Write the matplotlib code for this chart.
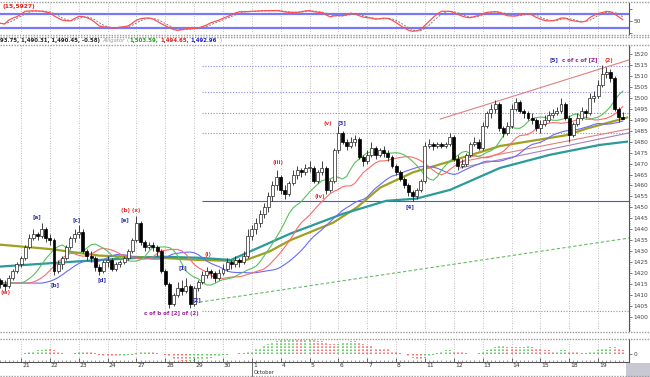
import numpy as np
import pandas as pd
import matplotlib
matplotlib.use("Agg")
import matplotlib.pyplot as plt
from matplotlib.lines import Line2D
from matplotlib.patches import Rectangle
import matplotlib.transforms as mtransforms

# ---------------- data ----------------
day_labels = ["21", "22", "23", "24", "27", "28", "29", "30", "1", "4", "5",
              "6", "7", "8", "11", "12", "13", "14", "15", "18", "19"]
month_label = "October"
month_day_index = 8          # "1" is the first October day
bars_per_day = 7
lead_bars = 5

open_ = [1417, 1415, 1414, 1418, 1421,
         1424, 1427, 1432, 1436, 1438, 1437, 1440,
         1436, 1435, 1421, 1424, 1427, 1432, 1436,
         1438, 1439, 1430, 1428, 1427, 1423, 1421,
         1425, 1426, 1422, 1424, 1425, 1427, 1430,
         1435, 1443, 1434, 1432, 1433, 1432, 1430,
         1421, 1415, 1406, 1410, 1413, 1412, 1414,
         1406, 1413, 1416, 1419, 1421, 1420, 1418,
         1420, 1422, 1425, 1424, 1426, 1425, 1428,
         1437, 1440, 1443, 1447, 1450, 1455, 1460,
         1464, 1458, 1456, 1461, 1465, 1467, 1466,
         1468, 1468, 1462, 1466, 1468, 1458, 1462,
         1476, 1484, 1480, 1478, 1480, 1481, 1473,
         1471, 1474, 1477, 1474, 1476, 1475, 1473,
         1469, 1466, 1463, 1460, 1457, 1455, 1458,
         1462, 1478, 1479, 1478, 1479, 1478, 1479,
         1482, 1472, 1469, 1470, 1474, 1479, 1480,
         1477, 1487, 1493, 1495, 1497, 1486, 1484,
         1487, 1495, 1498, 1494, 1493, 1491, 1490,
         1486, 1488, 1490, 1492, 1493, 1494, 1497,
         1491, 1483, 1488, 1491, 1494, 1493, 1500,
         1501, 1506, 1511, 1512, 1509, 1495, 1491.03]
high = [1418, 1417, 1419, 1422, 1425,
        1428, 1433, 1438, 1440, 1439, 1443, 1441,
        1438, 1436, 1426, 1428, 1433, 1437, 1440,
        1442, 1440, 1431, 1430, 1428, 1424, 1426,
        1428, 1427, 1425, 1426, 1428, 1431, 1436,
        1446, 1444, 1435, 1434, 1434, 1433, 1431,
        1422, 1416, 1411, 1416, 1417, 1418, 1415,
        1414, 1417, 1421, 1423, 1422, 1421, 1422,
        1424, 1427, 1426, 1428, 1427, 1430, 1440,
        1442, 1445, 1449, 1452, 1457, 1462, 1467,
        1465, 1460, 1462, 1467, 1469, 1468, 1470,
        1471, 1469, 1467, 1471, 1469, 1463, 1477,
        1487, 1485, 1481, 1482, 1483, 1482, 1474,
        1476, 1480, 1478, 1477, 1478, 1476, 1474,
        1470, 1467, 1464, 1461, 1458, 1459, 1463,
        1480, 1481, 1480, 1480, 1480, 1480, 1484,
        1483, 1474, 1472, 1475, 1480, 1482, 1481,
        1489, 1494, 1497, 1499, 1498, 1487, 1489,
        1497, 1500, 1499, 1495, 1494, 1493, 1491,
        1490, 1492, 1494, 1495, 1496, 1500, 1498,
        1492, 1489, 1493, 1496, 1495, 1502, 1503,
        1508, 1515, 1514, 1513, 1510, 1496, 1493.75]
low = [1413, 1412, 1413, 1417, 1420,
       1423, 1426, 1431, 1435, 1435, 1436, 1434,
       1433, 1419, 1420, 1422, 1426, 1431, 1434,
       1436, 1429, 1426, 1425, 1421, 1419, 1420,
       1423, 1421, 1421, 1423, 1424, 1426, 1429,
       1434, 1433, 1430, 1431, 1430, 1428, 1420,
       1414, 1404, 1405, 1409, 1410, 1411, 1404,
       1405, 1412, 1415, 1418, 1418, 1416, 1417,
       1419, 1421, 1422, 1423, 1423, 1424, 1427,
       1435, 1438, 1441, 1445, 1448, 1453, 1458,
       1456, 1454, 1455, 1460, 1463, 1464, 1465,
       1466, 1461, 1461, 1465, 1456, 1457, 1461,
       1475, 1479, 1476, 1477, 1478, 1472, 1469,
       1470, 1473, 1472, 1473, 1473, 1471, 1468,
       1465, 1462, 1459, 1455, 1453, 1454, 1457,
       1461, 1477, 1476, 1477, 1477, 1477, 1478,
       1471, 1467, 1468, 1469, 1473, 1478, 1476,
       1476, 1486, 1491, 1493, 1485, 1482, 1483,
       1486, 1494, 1493, 1491, 1490, 1488, 1485,
       1484, 1487, 1489, 1491, 1492, 1493, 1490,
       1480, 1482, 1487, 1490, 1491, 1492, 1498,
       1500, 1505, 1509, 1507, 1494, 1489, 1490.31]
close = [1415, 1414, 1418, 1421, 1424,
         1427, 1432, 1436, 1438, 1437, 1440, 1436,
         1435, 1421, 1424, 1427, 1432, 1436, 1438,
         1439, 1430, 1428, 1427, 1423, 1421, 1425,
         1426, 1422, 1424, 1425, 1427, 1430, 1435,
         1443, 1434, 1432, 1433, 1432, 1430, 1421,
         1415, 1406, 1410, 1413, 1412, 1414, 1406,
         1413, 1416, 1419, 1421, 1420, 1418, 1420,
         1422, 1425, 1424, 1426, 1425, 1428, 1437,
         1440, 1443, 1447, 1450, 1455, 1460, 1464,
         1458, 1456, 1461, 1465, 1467, 1466, 1468,
         1468, 1462, 1466, 1468, 1458, 1462, 1476,
         1484, 1480, 1478, 1480, 1481, 1473, 1471,
         1474, 1477, 1474, 1476, 1475, 1473, 1469,
         1466, 1463, 1460, 1457, 1455, 1458, 1462,
         1478, 1479, 1478, 1479, 1478, 1479, 1482,
         1472, 1469, 1470, 1474, 1479, 1480, 1477,
         1487, 1493, 1495, 1497, 1486, 1484, 1487,
         1495, 1498, 1494, 1493, 1491, 1490, 1486,
         1488, 1490, 1492, 1493, 1494, 1497, 1491,
         1483, 1488, 1491, 1494, 1493, 1500, 1501,
         1506, 1511, 1512, 1509, 1495, 1491.03, 1490.45]

# long moving averages (at sparse bars)
olive_bar = [-0.1, 12, 24, 38.7, 48.4, 58.9, 65.4, 70.3, 80.7, 86.5, 92.1,
             100.1, 109.1, 121.2, 137.5, 142.3, 152]
olive_val = [1433, 1431, 1428, 1427, 1426, 1425.5, 1430, 1435, 1443, 1450, 1459,
             1466, 1471, 1478, 1483, 1486, 1491]
teal_bar = [-0.1, 24, 38.7, 48.4, 55.9, 70.3, 83, 93.6, 100.9, 109.1, 121.2,
            133.3, 145.4, 152]
teal_val = [1423, 1426, 1427.5, 1427, 1426, 1438, 1447, 1453, 1454, 1458, 1468,
            1474, 1478.5, 1480]

# horizontal levels and trend lines
fib_dotted = [1514.5, 1502.8, 1493.2, 1483.9, 1402.9]
fib_solid = 1452.9
fib_start = 49
green_trend_bar = [47, 152.5]
green_trend_val = [1406.4, 1436.0]
chan_up_bar = [106.7, 152.5]
chan_up_val = [1490.3, 1517.3]
chan_lo_bar = [111.5, 152.5]
chan_lo_val = [1470.7, 1485.8]
chan_lo2_bar = [111.5, 152.5]
chan_lo2_val = [1468.0, 1484.0]

wave_text = ["(w)", "[a]", "[b]", "[c]", "[d]", "[e]", "(b) (x)",
             "c of b of [2] of (2)", "[1]", "[2]", "(i)", "(iii)", "(iv)",
             "(v)", "[3]", "[4]", "[5]", "c of c of [Z]", "(2)"]
wave_bar = [1.3, 8.9, 13.3, 18.6, 24.7, 30.2, 31.6, 41.5, 44.3, 47.7, 50.4,
            67.4, 77.6, 79.5, 82.9, 99.4, 134.2, 140.6, 147.6]
wave_price = [1411, 1445.6, 1414.6, 1444.6, 1416.9, 1444.6, 1448.8, 1401.8,
              1422.4, 1407.8, 1428.3, 1470.7, 1454.8, 1488.5, 1488.5, 1450.2,
              1517.3, 1517.3, 1517.0]
wave_color = ["#e03030", "#3030b0", "#3030b0", "#3030b0", "#3030b0", "#3030b0",
              "#e03030", "#a020a0", "#3030b0", "#3030b0", "#e03030", "#e03030",
              "#e03030", "#e03030", "#3030b0", "#3030b0", "#3030b0", "#a020a0",
              "#e03030"]

header_parts = ["93.75, 1,490.31, 1,490.45, -0.58)", "Alligator", "(",
                "1,503.59,", "1,494.65,", "1,492.96", ")"]
header_colors = ["#222222", "#999999", "#999999", "#20a020", "#e02020", "#2020d0", "#999999"]

# ---------------- figure ----------------
PW, PH = 650.0, 377.0
fig = plt.figure(figsize=(6.5, 3.77), dpi=100)
fig.patch.set_facecolor("white")


def rect(x0, y0, x1, y1):
    return [x0 / PW, 1 - y1 / PH, (x1 - x0) / PW, (y1 - y0) / PH]


XL = (-0.1, 152.5)
ax_st = fig.add_axes(rect(0, 3, 629, 34))
ax = fig.add_axes(rect(0, 45, 629, 331))
ax_ao = fig.add_axes(rect(0, 339, 629, 362))

n = len(close)
x = np.arange(n)
o = np.array(open_, float)
h = np.array(high, float)
l = np.array(low, float)
c = np.array(close, float)
day_pos = [lead_bars + bars_per_day * k for k in range(len(day_labels))]

for a in (ax_st, ax, ax_ao):
    a.set_xlim(*XL)
    for s in ("left", "top", "bottom"):
        a.spines[s].set_visible(False)
    a.spines["right"].set_color("#555555")
    a.spines["right"].set_linewidth(0.8)
    for p in day_pos:
        a.axvline(p, color="#aaaaaa", lw=0.6, ls=(0, (1, 2)), zorder=0)
    a.set_xticks([])
    a.yaxis.tick_right()
    a.tick_params(axis="y", labelsize=4.2, colors="#444444", length=2, width=0.5, pad=1.5)

# ---------- main price panel ----------
ax.set_ylim(1393.6, 1524.1)
ax.set_yticks(np.arange(1400, 1521, 5))
ax.set_yticks(np.arange(1394, 1524, 1), minor=True)
ax.tick_params(axis="y", which="minor", length=1, width=0.4, colors="#555555")

for lv in fib_dotted:
    ax.hlines(lv, fib_start, XL[1], color="#8a8aee", lw=0.8, ls=(0, (1, 1.5)), zorder=1)
ax.hlines(fib_solid, fib_start, XL[1], color="#5050dd", lw=0.8, zorder=1)
ax.plot(green_trend_bar, green_trend_val, color="#66bb66", lw=0.8, ls=(0, (3, 2)), zorder=1)
ax.plot(chan_up_bar, chan_up_val, color="#e08080", lw=0.8, zorder=1)
ax.plot(chan_lo_bar, chan_lo_val, color="#e08080", lw=0.8, zorder=1)
ax.plot(chan_lo2_bar, chan_lo2_val, color="#b080b0", lw=0.8, zorder=1)

# Alligator from median price (smoothed MAs, shifted forward)
med = pd.Series((h + l) / 2.0)
jaw = med.ewm(alpha=1 / 13, adjust=False).mean().shift(8).bfill()
teeth = med.ewm(alpha=1 / 8, adjust=False).mean().shift(5).bfill()
lips = med.ewm(alpha=1 / 5, adjust=False).mean().shift(3).bfill()
ax.plot(olive_bar, olive_val, color="#a0a020", lw=1.6, zorder=2)
ax.plot(teal_bar, teal_val, color="#2a9a9a", lw=1.6, zorder=2)
ax.plot(x, jaw, color="#6a6aff", lw=0.8, zorder=2)
ax.plot(x, teeth, color="#ff6a6a", lw=0.8, zorder=2)
ax.plot(x, lips, color="#5ac05a", lw=0.8, zorder=2)

# candles
up = c >= o
ax.vlines(x, l, h, color="#222222", lw=0.6, zorder=3)
bh = np.maximum(np.abs(c - o), 0.35)
bb = np.minimum(o, c)
ax.bar(x[up], bh[up], bottom=bb[up], width=0.72, color="white",
       edgecolor="#222222", linewidth=0.5, zorder=4)
ax.bar(x[~up], bh[~up], bottom=bb[~up], width=0.72, color="black",
       edgecolor="black", linewidth=0.5, zorder=4)

for t, bx, py, col in zip(wave_text, wave_bar, wave_price, wave_color):
    ax.text(bx, py, t, color=col, fontsize=4.0, ha="center", va="center",
            fontweight="bold", zorder=6)

# ---------- stochastic panel ----------
sc, sh, sl = pd.Series(c), pd.Series(h), pd.Series(l)
ll = sl.rolling(15, min_periods=1).min()
hh = sh.rolling(15, min_periods=1).max()
raw = 100 * (sc - ll) / (hh - ll)
k_line = raw.rolling(5, min_periods=1).mean()
d_line = k_line.rolling(3, min_periods=1).mean()
ax_st.set_ylim(-6, 127)
ax_st.axhline(80, color="#7878ff", lw=1.6, zorder=1)
ax_st.axhline(20, color="#7878ff", lw=1.6, zorder=1)
ax_st.plot(x, d_line, color="#808080", lw=0.7, ls=(0, (2, 1.5)), zorder=2)
ax_st.plot(x, k_line, color="#ff5050", lw=0.9, zorder=3)
ax_st.set_yticks([0, 50, 100])
ax_st.set_yticklabels(["", "50", ""])
ax_st.text(0.5, 124, "(15,5927)", color="#e02020", fontsize=4.3,
           fontweight="bold", va="top", ha="left")

# ---------- oscillator histogram ----------
ao = med.rolling(5, min_periods=1).mean() - med.rolling(34, min_periods=1).mean()
rising = ao.diff().fillna(0).values >= 0
m = 0.8 * float(np.nanmax(np.abs(ao.values)))
ax_ao.set_ylim(-8 * m / 12, 15 * m / 12)
ax_ao.vlines(x[rising], 0, ao.values[rising], color="#40c040", lw=1.1, ls=(0, (1, 1)))
ax_ao.vlines(x[~rising], 0, ao.values[~rising], color="#ff5050", lw=1.1, ls=(0, (1, 1)))
ax_ao.set_yticks([0])
ax_ao.set_yticklabels(["0"])
ax_ao.spines["bottom"].set_visible(True)
ax_ao.spines["bottom"].set_color("#555555")
ax_ao.spines["bottom"].set_linewidth(0.8)
ax_ao.set_xticks(day_pos)
ax_ao.set_xticklabels(day_labels)
ax_ao.set_xticks(x, minor=True)
ax_ao.tick_params(axis="x", which="major", direction="in", length=3, width=0.5,
                  labelsize=4.3, pad=1.0, colors="#333333")
ax_ao.tick_params(axis="x", which="minor", direction="in", length=1.5, width=0.4,
                  colors="#555555")
shift = mtransforms.ScaledTranslation(1.0 / 100, 0, fig.dpi_scale_trans)
for lab in ax_ao.get_xticklabels():
    lab.set_horizontalalignment("left")
    lab.set_transform(lab.get_transform() + shift)

# month label under the first October day, with a separator tick
mx = day_pos[month_day_index]
ax_ao.annotate(month_label, xy=(mx, 0), xycoords=ax_ao.get_xaxis_transform(),
               xytext=(1.5, -7.6), textcoords="offset points", fontsize=3.8,
               color="#333333", ha="left", va="center", annotation_clip=False)
ax_ao.plot([mx, mx], [0, -0.6], transform=ax_ao.get_xaxis_transform(),
           color="#555555", lw=0.6, clip_on=False)

# ---------- frame separators ----------
for ypx in (1.5, 34.5, 36.5, 44.5, 332, 338.5, 376):
    fig.add_artist(Line2D([0, 1], [1 - ypx / PH] * 2, transform=fig.transFigure,
                          color="#9a9a9a", lw=1.0, ls=(0, (1, 1))))
fig.add_artist(Rectangle((626 / PW, 0), 24 / PW, 14 / PH, transform=fig.transFigure,
                         facecolor="#c8c8d4", edgecolor="none"))

# header text line, pieces placed one after another
renderer = fig.canvas.get_renderer()
hy = 1 - 40.5 / PH
xpix = 0.0
for i, (part, col) in enumerate(zip(header_parts, header_colors)):
    kw = dict(fontsize=3.9, color=col, va="center")
    if i == 1:
        kw["style"] = "italic"
    elif i in (0, 3, 4, 5):
        kw["fontweight"] = "bold"
    t = fig.text(xpix / PW, hy, part, **kw)
    bb_t = t.get_window_extent(renderer)
    xpix = bb_t.x1 + (1.0 if part in ("(",) else 2.0)

fig.savefig("out.png", dpi=100, facecolor="white")
